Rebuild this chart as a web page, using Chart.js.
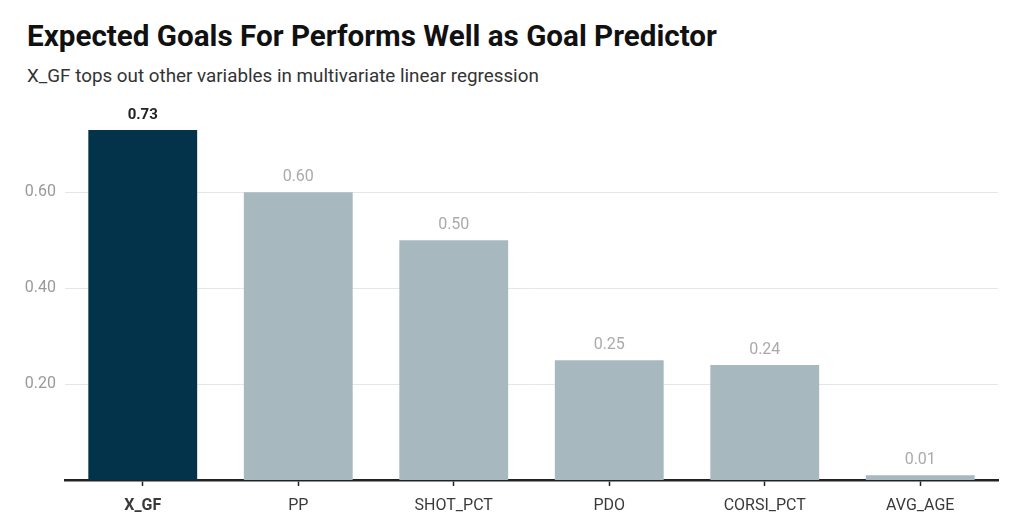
<!DOCTYPE html>
<html>
<head>
<meta charset="utf-8">
<script src="https://cdn.jsdelivr.net/npm/chart.js@4"></script>
<style>
  html, body { margin: 0; padding: 0; background: #fff; }
  #wrap { position: relative; width: 1030px; height: 526px; overflow: hidden; }
  #title { position: absolute; left: 27px; top: 18px; font: bold 30px Roboto, sans-serif; color: #111;
           white-space: nowrap; transform-origin: left top; }
  #subtitle { position: absolute; left: 27px; top: 65px; font: 18.8px Roboto, sans-serif; color: #333; white-space: nowrap; }
  canvas { position: absolute; left: 0; top: 0; }
</style>
</head>
<body>
<div id="wrap">
  <div id="title">Expected Goals For Performs Well as Goal Predictor</div>
  <div id="subtitle">X_GF tops out other variables in multivariate linear regression</div>
  <canvas id="chart" width="1030" height="526"></canvas>
</div>
<script>
const categories = ['X_GF', 'PP', 'SHOT_PCT', 'PDO', 'CORSI_PCT', 'AVG_AGE'];
const values = [0.73, 0.60, 0.50, 0.25, 0.24, 0.01];
const yTicks = [0.2, 0.4, 0.6];
const highlight = 'X_GF';

// squeeze the title to the condensed width of the original
const title = document.getElementById('title');
title.style.transform = 'scaleX(' + (690 / title.offsetWidth) + ')';
const subtitle = document.getElementById('subtitle');
subtitle.style.transformOrigin = 'left top';
subtitle.style.transform = 'scaleX(' + (512 / subtitle.offsetWidth) + ')';

const barColors = categories.map(c => c === highlight ? '#03334a' : '#a7b8bf');

const valueLabels = {
    id: 'valueLabels',
    afterDatasetsDraw(chart) {
        const ctx = chart.ctx;
        const meta = chart.getDatasetMeta(0);
        ctx.save();
        ctx.textAlign = 'center';
        ctx.textBaseline = 'bottom';
        meta.data.forEach((bar, i) => {
            const hi = categories[i] === highlight;
            ctx.font = (hi ? 'bold 15px' : '16px') + ' Roboto, sans-serif';
            ctx.fillStyle = hi ? '#222' : '#aaaaaa';
            ctx.fillText(values[i].toFixed(2), bar.x, bar.y - 7);
        });
        ctx.restore();
    }
};

new Chart(document.getElementById('chart'), {
    type: 'bar',
    data: {
        labels: categories,
        datasets: [{
            data: values,
            backgroundColor: barColors,
            barPercentage: 0.7,
            categoryPercentage: 1
        }]
    },
    options: {
        responsive: false,
        animation: false,
        layout: { padding: { top: 130, right: 32, bottom: 0, left: 0 } },
        plugins: { legend: { display: false }, tooltip: { enabled: false } },
        scales: {
            x: {
                grid: { offset: false, drawOnChartArea: false, tickLength: 6, color: '#222', tickWidth: 1.5 },
                border: { color: '#222', width: 2.5 },
                ticks: {
                    color: '#3a3a3a',
                    padding: 10,
                    font: ctx => ({ family: 'Roboto', size: 16, weight: categories[ctx.index] === highlight ? 'bold' : 'normal' })
                },
                afterFit: s => { s.height = 46; }
            },
            y: {
                min: 0,
                max: Math.max(...values),
                afterBuildTicks: s => { s.ticks = yTicks.map(v => ({ value: v })); },
                grid: { color: '#e6e6e6', drawTicks: false },
                border: { display: false },
                ticks: {
                    color: '#999',
                    padding: 9,
                    font: { family: 'Roboto', size: 16 },
                    callback: v => v.toFixed(2)
                },
                afterFit: s => { s.width = 65; }
            }
        }
    },
    plugins: [valueLabels]
});
</script>
</body>
</html>
